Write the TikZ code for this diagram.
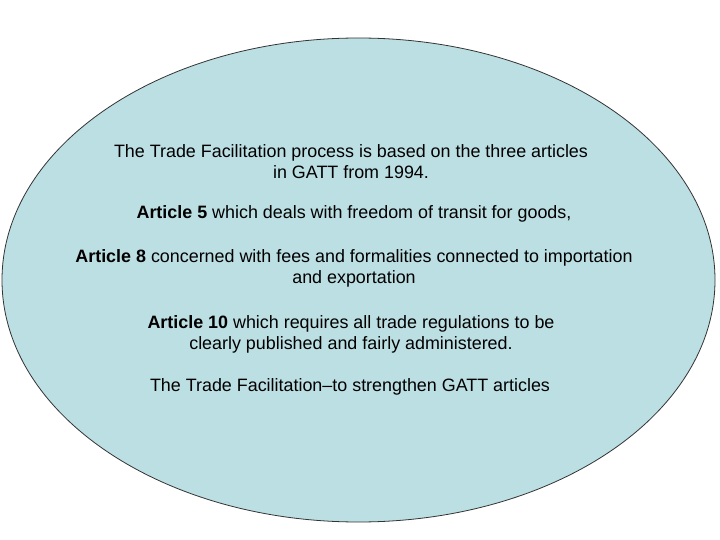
\documentclass[tikz,border=0pt]{standalone}
\usepackage{fontspec}
\setmainfont{Liberation Sans}
\usetikzlibrary{shapes.geometric}
\definecolor{ellfill}{HTML}{BCDFE3}
\tikzset{txt/.style={font=\fontsize{17.9}{21}\selectfont, align=center, inner sep=0pt, anchor=center}}
\begin{document}
\begin{tikzpicture}[x=1pt,y=-1pt]
\useasboundingbox (0,0) rectangle (720,540);
\node[ellipse, draw=black!80, line width=0.8pt, fill=ellfill, minimum width=713pt, minimum height=484pt, inner sep=0pt] (ell) at (358.5,280) {};
\node[txt] (t1) at (351,161.5) {The Trade Facilitation process is based on the three articles\\in GATT from 1994.};
\node[txt] (t2) at (354,214) {\textbf{Article 5} which deals with freedom of transit for goods,};
\node[txt] (t3) at (354,268.5) {\textbf{Article 8} concerned with fees and formalities connected to importation\\and exportation};
\node[txt] (t4) at (351,334.5) {\textbf{Article 10} which requires all trade regulations to be\\clearly published and fairly administered.};
\node[txt] (t5) at (350,387) {The Trade Facilitation--to strengthen GATT articles};
\end{tikzpicture}
\end{document}
